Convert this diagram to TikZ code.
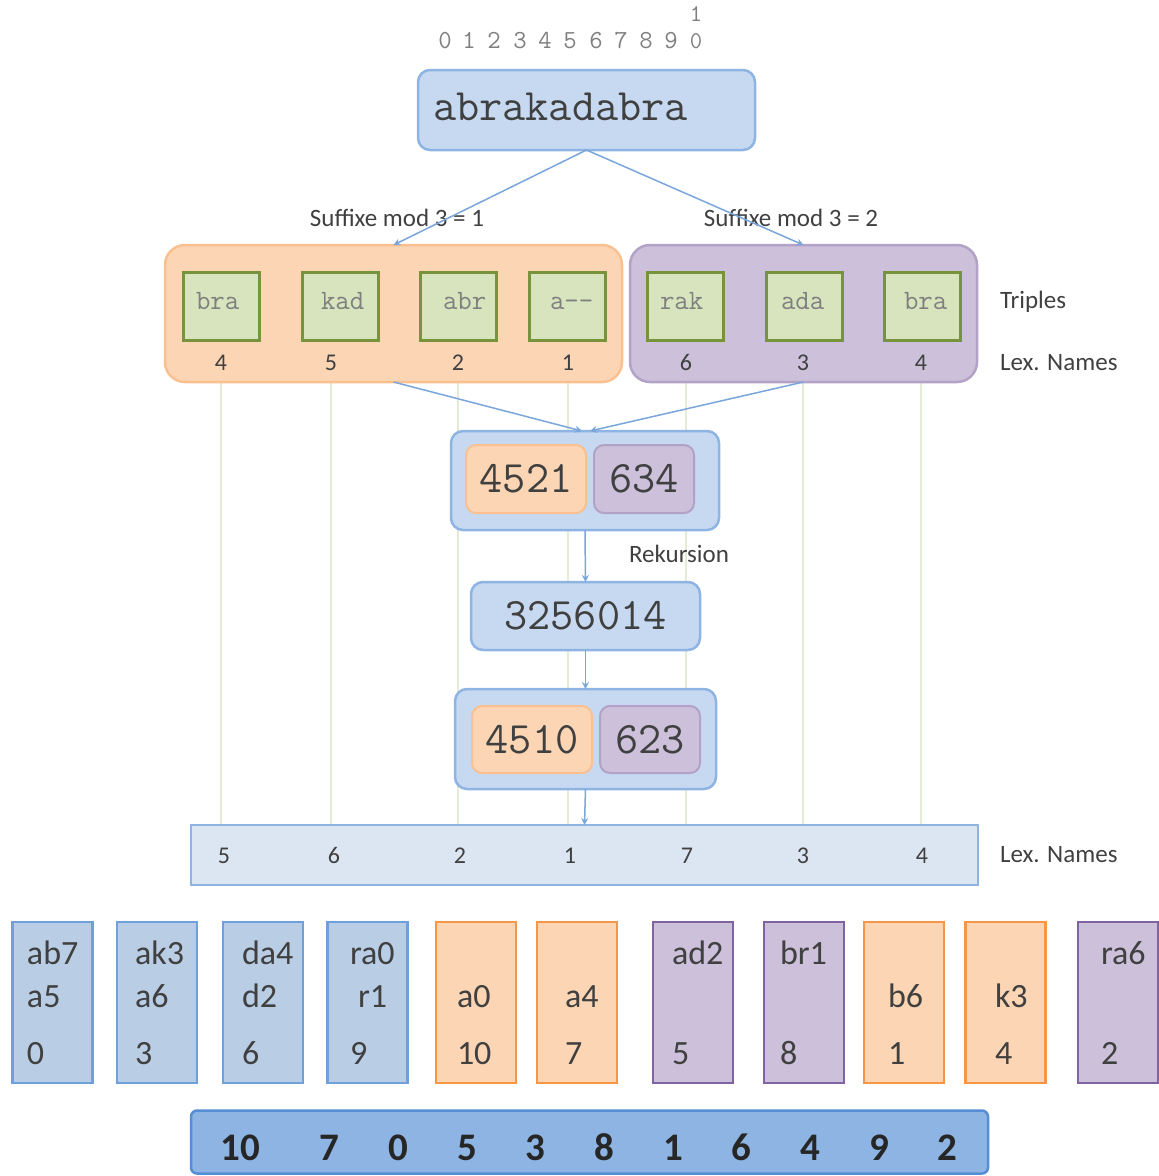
\documentclass[tikz,border=0pt]{standalone}
\usepackage{fontspec}
\setmainfont{Carlito}
\usetikzlibrary{arrows.meta,backgrounds}
\definecolor{bfill}{HTML}{C6D9F1}
\definecolor{bbord}{HTML}{8DB4E2}
\definecolor{ofill}{HTML}{FCD5B4}
\definecolor{obord}{HTML}{FAC090}
\definecolor{pfill}{HTML}{CCC0DA}
\definecolor{pbord}{HTML}{B3A2C7}
\definecolor{gfill}{HTML}{D7E4BD}
\definecolor{gbord}{HTML}{77933C}
\definecolor{lfill}{HTML}{DCE6F2}
\definecolor{vline}{HTML}{E4ECD6}
\definecolor{arr}{HTML}{7AA6DC}
\definecolor{tgray}{HTML}{404040}
\definecolor{lgray}{HTML}{7F7F7F}
\definecolor{b2fill}{HTML}{B9CDE5}
\definecolor{b2bord}{HTML}{6FA0DC}
\definecolor{o2bord}{HTML}{F79646}
\definecolor{p2bord}{HTML}{8064A2}
\definecolor{safill}{HTML}{8DB4E2}
\definecolor{sabord}{HTML}{558ED5}
\begin{document}
\begin{tikzpicture}[x=1pt,y=-1pt,
  every node/.style={inner sep=0pt, outer sep=0pt},
  bluebox/.style={draw=bbord, fill=bfill, line width=2.5pt, rounded corners=12pt},
  orgroup/.style={draw=obord, fill=ofill, line width=2.5pt, rounded corners=20pt},
  pugroup/.style={draw=pbord, fill=pfill, line width=2.5pt, rounded corners=20pt},
  oinner/.style={draw=obord, fill=ofill, line width=2pt, rounded corners=10pt},
  pinner/.style={draw=pbord, fill=pfill, line width=2pt, rounded corners=10pt},
  triple/.style={draw=gbord, fill=gfill, line width=3pt, minimum width=76pt, minimum height=68pt},
  tripletxt/.style={anchor=base west, text=lgray, font=\ttfamily\fontsize{28}{30}\selectfont},
  bigmono/.style={text=tgray, font=\ttfamily\fontsize{45}{48}\selectfont},
  idx/.style={anchor=base, text=lgray, font=\ttfamily\fontsize{26}{28}\selectfont},
  label/.style={text=tgray, font=\fontsize{25}{28}\selectfont},
  lexnum/.style={anchor=base, text=tgray, font=\fontsize{24}{26}\selectfont},
  conn/.style={draw=arr, line width=1.5pt, -{Stealth[length=7pt,width=7pt]}},
  vl/.style={draw=vline, line width=2pt},
  bbox/.style={draw=b2bord, fill=b2fill, line width=2.5pt, minimum width=80pt, minimum height=161pt},
  obox/.style={draw=o2bord, fill=ofill, line width=2.5pt, minimum width=80pt, minimum height=161pt},
  pbox/.style={draw=p2bord, fill=pfill, line width=2.5pt, minimum width=80pt, minimum height=161pt},
  btxt/.style={anchor=base west, text=tgray, font=\fontsize{34}{36}\selectfont},
  satxt/.style={anchor=base, text=black!85, font=\bfseries\fontsize{39}{42}\selectfont}]
\useasboundingbox (0,0) rectangle (1159,1176);

% index digits
\node[idx] (i0) at (445,48) {0};
\node[idx] (i1) at (469,48) {1};
\node[idx] (i2) at (494,48) {2};
\node[idx] (i3) at (520,48) {3};
\node[idx] (i4) at (545,48) {4};
\node[idx] (i5) at (570,48) {5};
\node[idx] (i6) at (596,48) {6};
\node[idx] (i7) at (621,48) {7};
\node[idx] (i8) at (646,48) {8};
\node[idx] (i9) at (671,48) {9};
\node[anchor=south, align=center, text=lgray, font=\ttfamily\fontsize{24}{27}\selectfont] (i10) at (696,49) {1\\0};

% input string
\node[bluebox, minimum width=337pt, minimum height=80pt] (abra) at (586.5,110) {};
\node[bigmono, anchor=base west] (abratxt) at (433,120) {abrakadabra};

% labels
\node[label, anchor=base] (s1) at (397,226) {Suffixe mod 3 = 1};
\node[label, anchor=base] (s2) at (791,226) {Suffixe mod 3 = 2};

% groups
\node[orgroup, minimum width=457pt, minimum height=137pt] (og) at (393.5,313.5) {};
\node[pugroup, minimum width=347pt, minimum height=137pt] (pg) at (803.5,313.5) {};

% triples
\node[triple] (t1) at (221,306) {};
\node[triple] (t2) at (340,306) {};
\node[triple] (t3) at (458,306) {};
\node[triple] (t4) at (567.5,306) {};
\node[triple] (t5) at (685,306) {};
\node[triple] (t6) at (804,306) {};
\node[triple] (t7) at (922,306) {};
\node[tripletxt] (tt1) at (196,309) {bra};
\node[tripletxt] (tt2) at (321,309) {kad};
\node[tripletxt] (tt3) at (443,309) {abr};
\node[tripletxt] (tt4) at (550,309) {a--};
\node[tripletxt] (tt5) at (660,309) {rak};
\node[tripletxt] (tt6) at (781,309) {ada};
\node[tripletxt] (tt7) at (904,309) {bra};

% lex names (upper)
\node[lexnum] (n1) at (221,370) {4};
\node[lexnum] (n2) at (331,370) {5};
\node[lexnum] (n3) at (458,370) {2};
\node[lexnum] (n4) at (568,370) {1};
\node[lexnum] (n5) at (686,370) {6};
\node[lexnum] (n6) at (803,370) {3};
\node[lexnum] (n7) at (921,370) {4};

\node[label, anchor=base west] (trl) at (1000,308) {Triples};
\node[label, anchor=base west] (lnl1) at (1000,370) {Lex. Names};

% middle boxes
\node[bluebox, minimum width=268pt, minimum height=99pt] (m1) at (585,480.5) {};
\node[oinner, minimum width=120pt, minimum height=68pt, bigmono] (m1o) at (526,479) {4521};
\node[pinner, minimum width=100pt, minimum height=68pt, bigmono] (m1p) at (644,479) {634};

\node[bluebox, minimum width=229pt, minimum height=68pt, bigmono] (m2) at (585.5,616) {3256014};

\node[bluebox, minimum width=261pt, minimum height=100pt] (m3) at (585.5,739) {};
\node[oinner, minimum width=120pt, minimum height=67pt, bigmono] (m3o) at (532,739.5) {4510};
\node[pinner, minimum width=100pt, minimum height=67pt, bigmono] (m3p) at (650,739.5) {623};

\node[label, anchor=base west] (rek) at (629,562) {Rekursion};

% lex names box
\node[draw=bbord, fill=lfill, line width=2.5pt, minimum width=787pt, minimum height=60pt] (lexbox) at (584.5,855) {};
\node[lexnum] (q1) at (224,863) {5};
\node[lexnum] (q2) at (334,863) {6};
\node[lexnum] (q3) at (460,863) {2};
\node[lexnum] (q4) at (570,863) {1};
\node[lexnum] (q5) at (687,863) {7};
\node[lexnum] (q6) at (803,863) {3};
\node[lexnum] (q7) at (922,863) {4};
\node[label, anchor=base west] (lnl2) at (1000,862) {Lex. Names};

% vertical guide lines (behind)
\begin{scope}[on background layer]
\foreach \n in {n1,n2,n3,n4,n5,n6,n7}{
  \draw[vl] (\n |- og.south) -- (\n |- lexbox.north);
}
\end{scope}

% connectors
\draw[conn] (abra.south) -- (og.north);
\draw[conn] (abra.south) -- (pg.north);
\draw[conn] (og.south) -- ([xshift=-3pt]m1.north);
\draw[conn] (pg.south) -- ([xshift=5pt]m1.north);
\draw[conn] (m1.south) -- (m2.north);
\draw[conn] (m2.south) -- (m3.north);
\draw[conn] (m3.south) -- (lexbox.north);

% bottom buckets
\node[bbox] (c1) at (52.5,1002.5) {};
\node[bbox] (c2) at (157,1002.5) {};
\node[bbox] (c3) at (263,1002.5) {};
\node[bbox] (c4) at (367.5,1002.5) {};
\node[obox] (c5) at (476,1002.5) {};
\node[obox] (c6) at (577,1002.5) {};
\node[pbox] (c7) at (693,1002.5) {};
\node[pbox] (c8) at (804,1002.5) {};
\node[obox] (c9) at (904,1002.5) {};
\node[obox] (c10) at (1005.5,1002.5) {};
\node[pbox] (c11) at (1118,1002.5) {};

\node[btxt] (c1a) at (27,964) {ab7};
\node[btxt] (c1b) at (27,1007) {a5};
\node[btxt] (c1c) at (27,1064) {0};
\node[btxt] (c2a) at (135,964) {ak3};
\node[btxt] (c2b) at (135,1007) {a6};
\node[btxt] (c2c) at (135,1064) {3};
\node[btxt] (c3a) at (242,964) {da4};
\node[btxt] (c3b) at (242,1007) {d2};
\node[btxt] (c3c) at (242,1064) {6};
\node[btxt] (c4a) at (350,964) {ra0};
\node[btxt] (c4b) at (358,1007) {r1};
\node[btxt] (c4c) at (350,1064) {9};
\node[btxt] (c5b) at (457,1007) {a0};
\node[btxt] (c5c) at (457,1064) {10};
\node[btxt] (c6b) at (565,1007) {a4};
\node[btxt] (c6c) at (565,1064) {7};
\node[btxt] (c7a) at (672,964) {ad2};
\node[btxt] (c7c) at (672,1064) {5};
\node[btxt] (c8a) at (780,964) {br1};
\node[btxt] (c8c) at (780,1064) {8};
\node[btxt] (c9b) at (888,1007) {b6};
\node[btxt] (c9c) at (888,1064) {1};
\node[btxt] (c10b) at (995,1007) {k3};
\node[btxt] (c10c) at (995,1064) {4};
\node[btxt] (c11a) at (1101,964) {ra6};
\node[btxt] (c11c) at (1101,1064) {2};

% suffix array
\node[draw=sabord, fill=safill, line width=2.5pt, rounded corners=6pt, minimum width=797pt, minimum height=63pt] (sa) at (589.5,1142) {};
\node[satxt] (sa1) at (240,1160) {10};
\node[satxt] (sa2) at (329,1160) {7};
\node[satxt] (sa3) at (398,1160) {0};
\node[satxt] (sa4) at (467,1160) {5};
\node[satxt] (sa5) at (535,1160) {3};
\node[satxt] (sa6) at (604,1160) {8};
\node[satxt] (sa7) at (673,1160) {1};
\node[satxt] (sa8) at (741,1160) {6};
\node[satxt] (sa9) at (810,1160) {4};
\node[satxt] (sa10) at (879,1160) {9};
\node[satxt] (sa11) at (947,1160) {2};
\end{tikzpicture}
\end{document}
